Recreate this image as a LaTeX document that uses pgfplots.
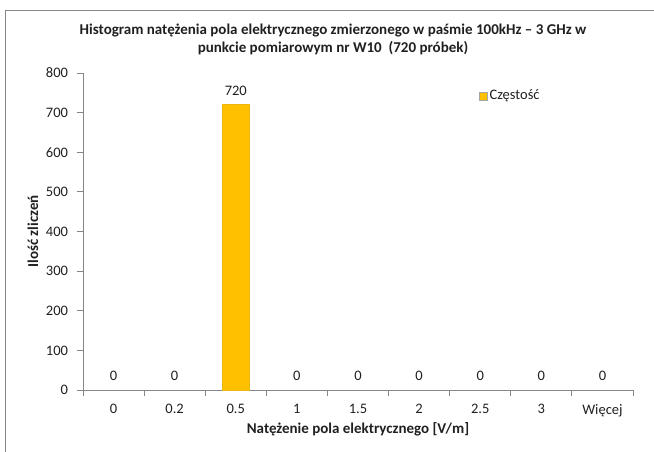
\documentclass[border=0pt]{standalone}
\usepackage{pgfplots}
\pgfplotsset{compat=1.18}
\usepackage{fontspec}
\setmainfont{Carlito}
\definecolor{barc}{HTML}{FFC000}
\definecolor{axc}{HTML}{868686}
\definecolor{txt}{HTML}{202020}
\newcommand\fr{\fontsize{14.5bp}{16bp}\selectfont}
\begin{document}
\fr
\begin{tikzpicture}[x=1bp,y=1bp]
\begin{axis}[scale only axis,
  width=550bp, height=317bp,
  xmin=-0.5, xmax=8.5, ymin=0, ymax=800,
  ytick={0,100,...,800},
  xtick={0,...,8},
  xticklabels={0,0.2,0.5,1,1.5,2,2.5,3,Więcej},
  minor xtick={-0.5,0.5,...,8.5},
  axis x line*=bottom, axis y line*=left,
  axis line style={axc, line width=0.8bp, -},
  tick align=outside, major tick length=6bp, minor tick length=6bp,
  major x tick style={draw=none},
  minor x tick style={draw=axc, line width=0.8bp},
  y tick style={draw=axc, line width=0.8bp},
  /pgf/number format/assume math mode=true,
  tick label style={font=\fr, text=txt},
  yticklabel style={xshift=-4bp},
  xticklabel style={yshift=-3bp},
  xlabel={\bfseries Natężenie pola elektrycznego [V/m]},
  ylabel={\bfseries Ilość zliczeń},
  label style={font=\fontsize{15bp}{16bp}\selectfont, text=txt},
  xlabel style={at={(rel axis cs:0.5,0)}, anchor=center, yshift=-39bp},
  ylabel style={at={(rel axis cs:0,0.5)}, anchor=center, yshift=50bp},
  legend style={at={(0.72,0.927)}, anchor=west, draw=none, fill=none,
    font=\fr, text=txt, inner sep=0pt},
  legend image code/.code={\draw[fill=barc, draw=gray!70, line width=0.4bp] (0bp,-4bp) rectangle (8bp,4bp);},
  clip=false,
]
\addplot[ybar, bar width=0.43, fill=barc, draw=barc!85!gray, line width=0.5bp]
  coordinates {(2,720)};
\addlegendentry{Częstość}
\addplot[draw=none, mark=none, forget plot, nodes near coords,
  every node near coord/.append style={font=\fr, text=txt, yshift=4bp}]
  coordinates {(0,0) (1,0) (2,720) (3,0) (4,0) (5,0) (6,0) (7,0) (8,0)};
\coordinate (P) at (rel axis cs:0,0);
\end{axis}
\begin{scope}[shift={(P)}, xshift=-83bp, yshift=-62bp]
\pgfresetboundingbox
\useasboundingbox (0,0) rectangle (654,452);
\draw[color=axc, line width=0.9bp] (5,0) -- (5,442) -- (654,442);
\node[align=center, font=\fontsize{15bp}{18bp}\selectfont\bfseries, text=txt] at (333,413)
  {Histogram natężenia pola elektrycznego zmierzonego w paśmie 100kHz – 3 GHz w\\punkcie pomiarowym nr W10\ \ (720 próbek)};
\end{scope}
\end{tikzpicture}
\end{document}
